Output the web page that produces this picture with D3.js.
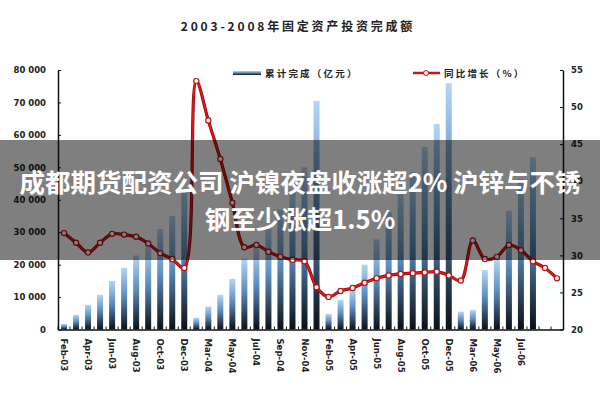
<!DOCTYPE html>
<html><head><meta charset="utf-8">
<script src="https://cdn.jsdelivr.net/npm/d3@7"></script>
<style>body{margin:0;background:#fff}svg{display:block}</style>
</head><body>
<svg id="c" width="600" height="400"></svg>
<script>
const months = ["Feb","Mar","Apr","May","Jun","Jul","Aug","Sep","Oct","Nov","Dec"];
const categories = [].concat(
  months.map(m => m + "-03"),
  months.map(m => m + "-04"),
  months.map(m => m + "-05"),
  months.slice(0, 9).map(m => m + "-06")
);
// cumulative investment (亿元), bars
const barValues = [
  1700, 4500, 7600, 10700, 15000, 19000, 22800, 25500, 31000, 35000, 43300,
  3600, 7100, 10700, 15600, 21800, 25300, 31000, 37000, 43000, 50000, 70500,
  4800, 9100, 12300, 20000, 27800, 36200, 41700, 48500, 56300, 63400, 75900,
  5500, 6000, 18300, 21600, 36600, 46400, 53100, null, null
];
// growth (%), line
const lineValues = [
  33.0, 31.7, 30.4, 31.7, 32.9, 32.8, 32.5, 31.6, 30.3, 29.5, 28.3,
  53.5, 48.2, 43.0, 37.1, 31.1, 31.4, 30.5, 29.8, 29.4, 29.2, 25.7,
  24.4, 25.2, 25.6, 26.3, 26.9, 27.3, 27.5, 27.6, 27.7, 27.8, 27.3,
  26.6, 32.0, 29.5, 29.8, 31.4, 30.7, 29.2, 28.3, 26.9
];
const leftTicks = [0, 10000, 20000, 30000, 40000, 50000, 60000, 70000, 80000];
const rightTicks = [20, 25, 30, 35, 40, 45, 50, 55];
const titleText = "2003-2008年固定资产投资完成额";
const legendBar = "累计完成（亿元）";
const legendLine = "同比增长（%）";
const bannerLines = ["成都期货配资公司 沪镍夜盘收涨超2% 沪锌与不锈", "钢至少涨超1.5%"];

const svg = d3.select("#c");
const L = 58, R = 563, T = 70, B = 329.5;
const x = d3.scaleBand().domain(categories).range([L, R]).padding(0);
const yL = d3.scaleLinear().domain([0, 80000]).range([B, T]);
const yR = d3.scaleLinear().domain([20, 55]).range([B, T]);

const defs = svg.append("defs");
const g = defs.append("linearGradient").attr("id", "bg").attr("x1", 0).attr("y1", 0).attr("x2", 0).attr("y2", 1);
g.append("stop").attr("offset", "0%").attr("stop-color", "#b4d6f6");
g.append("stop").attr("offset", "45%").attr("stop-color", "#5d8fc0");
g.append("stop").attr("offset", "100%").attr("stop-color", "#0b1016");

// title
svg.append("text").attr("x", 298).attr("y", 31).attr("text-anchor", "middle")
  .attr("font-family", "Noto Sans CJK SC").attr("font-weight", "bold").attr("font-size", 12)
  .attr("letter-spacing", 2.8).attr("fill", "#222").text(titleText);

// bars
const bw = 6;
svg.append("g").selectAll("rect").data(categories.map((c, i) => ({c, v: barValues[i]})).filter(d => d.v != null))
  .join("rect")
  .attr("x", d => x(d.c) + x.bandwidth() / 2 - bw / 2)
  .attr("width", bw)
  .attr("y", d => yL(d.v))
  .attr("height", d => B - yL(d.v))
  .attr("fill", "url(#bg)");

// axes
const axisStyle = sel => {
  sel.selectAll("path").attr("stroke", "#111").attr("stroke-width", 1.5);
  sel.selectAll("line").attr("stroke", "#111");
  sel.selectAll("text").attr("font-family", "DejaVu Sans").attr("font-weight", "bold").attr("font-size", 8.5).attr("fill", "#222");
};
const fmt = v => v === 0 ? "0" : d3.format(",")(v).replace(",", " ");
svg.append("g").attr("transform", `translate(${L},0)`)
  .call(d3.axisLeft(yL).tickValues(leftTicks).tickFormat(fmt).tickSize(-3).tickSizeOuter(0).tickPadding(12))
  .call(axisStyle);
svg.append("g").attr("transform", `translate(${R},0)`)
  .call(d3.axisRight(yR).tickValues(rightTicks).tickSize(-3).tickSizeOuter(0).tickPadding(8))
  .call(axisStyle);
const xa = svg.append("g").attr("transform", `translate(0,${B})`)
  .call(d3.axisBottom(x).tickValues(categories.filter((c, i) => i % 2 === 0 && i < 40)).tickSize(0).tickPadding(0))
  .call(axisStyle);
xa.selectAll("text").attr("transform", "rotate(90)").attr("text-anchor", "start")
  .attr("x", 9).attr("y", 0).attr("dy", "0.35em").attr("font-size", 8.5);
// small minor ticks on baseline
svg.append("g").selectAll("line").data(categories).join("line")
  .attr("x1", d => x(d)).attr("x2", d => x(d)).attr("y1", B).attr("y2", B - 3)
  .attr("stroke", "#111");

// line
const pts = categories.map((c, i) => [x(c) + x.bandwidth() / 2, yR(lineValues[i])]);
svg.append("path").attr("d", d3.line().curve(d3.curveCatmullRom.alpha(0.5))(pts))
  .attr("fill", "none").attr("stroke", "#8a0c0c").attr("stroke-width", 3.2);
svg.append("path").attr("d", d3.line().curve(d3.curveCatmullRom.alpha(0.5))(pts))
  .attr("fill", "none").attr("stroke", "#e01818").attr("stroke-width", 1.8);
svg.append("g").selectAll("circle").data(pts).join("circle")
  .attr("cx", d => d[0]).attr("cy", d => d[1]).attr("r", 2.6)
  .attr("fill", "#fff").attr("stroke", "#c01010").attr("stroke-width", 1.2);

// legend
svg.append("rect").attr("x", 233).attr("y", 71).attr("width", 28).attr("height", 4).attr("fill", "url(#bg)");
svg.append("text").attr("x", 265).attr("y", 77).attr("font-family", "Noto Sans CJK SC").attr("font-weight", "bold")
  .attr("font-size", 9.5).attr("letter-spacing", 2.2).attr("fill", "#222").text(legendBar);
svg.append("line").attr("x1", 413).attr("x2", 440).attr("y1", 73).attr("y2", 73).attr("stroke", "#d01414").attr("stroke-width", 2.5);
svg.append("circle").attr("cx", 426).attr("cy", 73).attr("r", 2.5).attr("fill", "#fff").attr("stroke", "#c01010");
svg.append("text").attr("x", 444).attr("y", 77).attr("font-family", "Noto Sans CJK SC").attr("font-weight", "bold")
  .attr("font-size", 9.5).attr("letter-spacing", 2.2).attr("fill", "#222").text(legendLine);

// overlay banner
svg.append("rect").attr("x", 0).attr("y", 140).attr("width", 600).attr("height", 120).attr("fill", "rgba(0,0,0,0.5)");
svg.selectAll("text.banner").data(bannerLines).join("text").attr("class", "banner")
  .attr("x", 300).attr("y", (d, i) => 192 + i * 37).attr("text-anchor", "middle")
  .attr("font-family", "Noto Sans CJK SC").attr("font-weight", "bold").attr("font-size", 25.5)
  .attr("fill", "#fff").text(d => d);
</script>
</body></html>
